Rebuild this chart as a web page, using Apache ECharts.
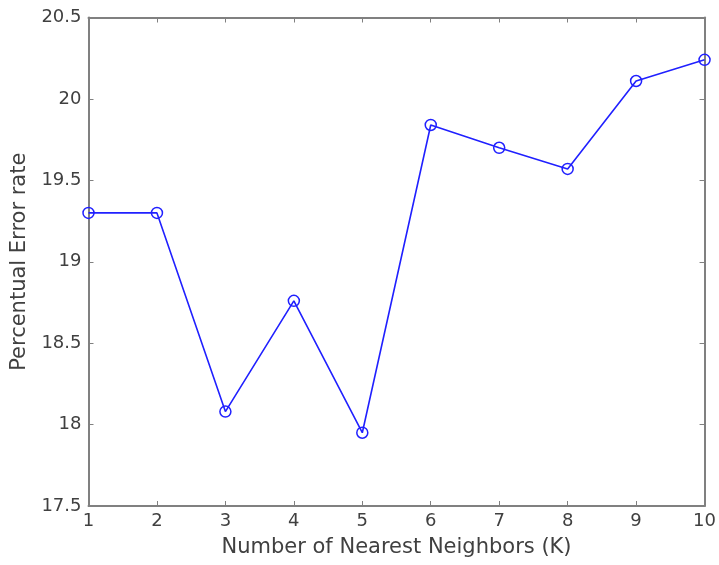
<!DOCTYPE html>
<html>
<head>
<meta charset="utf-8">
<script src="https://cdn.jsdelivr.net/npm/echarts@6/dist/echarts.min.js"></script>
<style>
  html, body { margin: 0; padding: 0; background: #fff; }
  #chart { width: 719px; height: 565px; }
</style>
</head>
<body>
<div id="chart"></div>
<script>
// K values and error rate
const kValues = [1, 2, 3, 4, 5, 6, 7, 8, 9, 10]
const errorRate = [19.30, 19.30, 18.08, 18.76, 17.95, 19.84, 19.70, 19.57, 20.11, 20.24]

const axisColor = '#808080'
const textColor = '#404040'
const fontFamily = 'DejaVu Sans'

const myChart = echarts.init(document.getElementById('chart'))

const tickStyle = { show: true, inside: true, length: 5, lineStyle: { color: axisColor } }

const option = {
  backgroundColor: '#fff',
  animation: false,
  grid: { left: 88.5, top: 17.5, right: 14, bottom: 59 },
  xAxis: [
    {
      type: 'value',
      min: 1, max: 10, interval: 1,
      name: 'Number of Nearest Neighbors (K)',
      nameLocation: 'middle',
      nameGap: 31,
      nameTextStyle: { color: textColor, fontSize: 21, fontFamily: fontFamily },
      axisLine: { lineStyle: { color: axisColor, width: 2 } },
      axisTick: tickStyle,
      axisLabel: { color: textColor, fontSize: 18, fontFamily: fontFamily, margin: 6 },
      splitLine: { show: false }
    },
    {
      // top edge of the box, ticks only
      type: 'value', position: 'top',
      min: 1, max: 10, interval: 1,
      axisLine: { lineStyle: { color: axisColor, width: 2 } },
      axisTick: tickStyle,
      axisLabel: { show: false },
      splitLine: { show: false }
    }
  ],
  yAxis: [
    {
      type: 'value',
      min: 17.5, max: 20.5, interval: 0.5,
      name: 'Percentual Error rate',
      nameLocation: 'middle',
      nameGap: 55,
      nameTextStyle: { color: textColor, fontSize: 21, fontFamily: fontFamily },
      axisLine: { show: true, lineStyle: { color: axisColor, width: 2 } },
      axisTick: tickStyle,
      axisLabel: { color: textColor, fontSize: 18, fontFamily: fontFamily, margin: 7 },
      splitLine: { show: false }
    },
    {
      // right edge of the box
      type: 'value', position: 'right',
      min: 17.5, max: 20.5, interval: 0.5,
      axisLine: { show: true, lineStyle: { color: axisColor, width: 2 } },
      axisTick: tickStyle,
      axisLabel: { show: false },
      splitLine: { show: false }
    }
  ],
  series: [
    {
      type: 'line',
      data: kValues.map((k, i) => [k, errorRate[i]]),
      symbol: 'circle',
      symbolSize: 11,
      showAllSymbol: true,
      lineStyle: { color: '#2020ff', width: 1.6 },
      itemStyle: { color: 'rgba(0,0,0,0)', borderColor: '#2020ff', borderWidth: 1.5 }
    }
  ]
}

myChart.setOption(option)
</script>
</body>
</html>
